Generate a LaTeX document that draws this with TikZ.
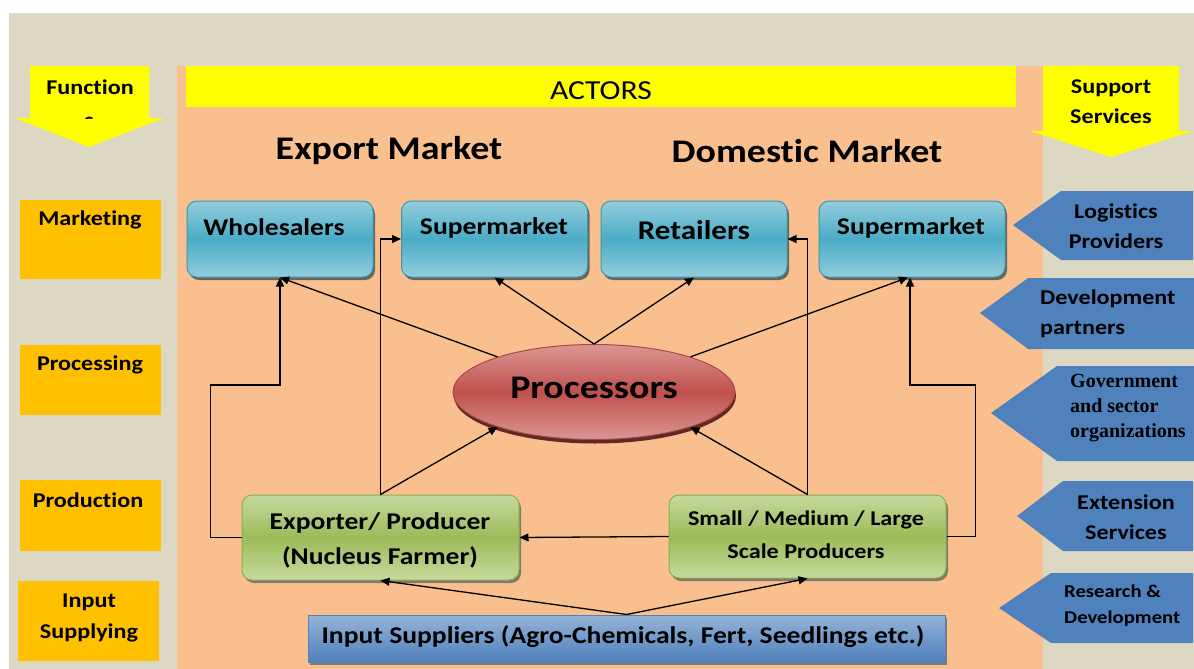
\documentclass[tikz,border=0pt]{standalone}
\usepackage{fontspec}
\setmainfont{Carlito}[FakeStretch=1.15,Ligatures=NoCommon]
\newfontfamily\timesfont{Liberation Serif}
\usetikzlibrary{shapes.geometric,shadows,arrows.meta,calc}
\definecolor{tanbg}{HTML}{DDD8C4}
\definecolor{peach}{HTML}{F9BF8F}
\definecolor{yel}{HTML}{FFFF00}
\definecolor{orng}{HTML}{FFC000}
\definecolor{sblue}{HTML}{4F81BD}
\definecolor{bluelt}{HTML}{93CDDD}
\definecolor{bluedk}{HTML}{4BACC6}
\definecolor{bluebd}{HTML}{3C97AE}
\definecolor{grnlt}{HTML}{C6DA9E}
\definecolor{grndk}{HTML}{9BBB59}
\definecolor{grnbd}{HTML}{8AAE4A}
\definecolor{redlt}{HTML}{DA9694}
\definecolor{reddk}{HTML}{C0504D}
\definecolor{inplt}{HTML}{95B3D7}
\tikzset{
  x=1pt,y=-1pt,
  bluebox/.style={draw=bluebd,line width=1pt,rounded corners=10pt,top color=bluelt,bottom color=bluelt,middle color=bluedk,
    minimum width=186pt,minimum height=76pt,drop shadow={shadow xshift=2pt,shadow yshift=-3pt,fill=black!70,opacity=0.8}},
  grnbox/.style={draw=grnbd,line width=1pt,rounded corners=10pt,top color=grnlt,bottom color=grnlt,middle color=grndk,
    minimum width=277pt,minimum height=85pt,drop shadow={shadow xshift=2pt,shadow yshift=-3pt,fill=black!60,opacity=0.8}},
  fnbox/.style={fill=orng,minimum width=141pt,anchor=north west,inner sep=0pt},
  lbl/.style={font=\bfseries,inner sep=0pt,align=center},
  conn/.style={draw=black,line width=1.3pt,-{Triangle[length=9pt,width=8pt]}},
}
\begin{document}
\begin{tikzpicture}
\useasboundingbox (0,0) rectangle (1194,669);
\fill[white] (0,0) rectangle (1194,669);
\fill[tanbg] (9,13) rectangle (1194,669);
\fill[peach] (177,66) rectangle (1043,669);
% actors bar
\node[fill=yel,minimum width=830pt,minimum height=41pt,anchor=north west,inner sep=0pt] (actors) at (186,66) {};
\node[font=\fontsize{27.5}{27.5}\selectfont,inner sep=0pt] (actorst) at (601,91) {ACTORS};
% functions arrow
\fill[yel] (30,66) -- (149,66) -- (149,118) -- (164,118) -- (89,147) -- (15,118) -- (30,118) -- cycle;
\node[lbl,font=\bfseries\fontsize{21}{21}\selectfont] (funct) at (90,87) {Function};
\begin{scope}
\clip (20,100) rectangle (160,118.5);
\node[lbl,font=\bfseries\fontsize{21}{21}\selectfont] (functs) at (89,122) {s};
\end{scope}
% support services arrow
\fill[yel] (1043,66) -- (1179,66) -- (1179,131) -- (1193,131) -- (1111,157) -- (1030,131) -- (1043,131) -- cycle;
\node[lbl,font=\bfseries\fontsize{21}{24}\selectfont] (supp) at (1111,102) {Support\\[6pt]Services};
% function boxes
\node[fnbox,minimum height=79pt] (fmark) at (20,200) {};
\node[lbl,font=\bfseries\fontsize{21}{21}\selectfont] (fmarkt) at (90,220) {Marketing};
\node[fnbox,minimum height=70pt] (fproc) at (20,345) {};
\node[lbl,font=\bfseries\fontsize{21}{21}\selectfont] (fproct) at (90,365) {Processing};
\node[fnbox,minimum height=71pt] (fprod) at (20,480) {};
\node[lbl,font=\bfseries\fontsize{21}{21}\selectfont] (fprodt) at (88,500) {Production};
\node[fnbox,minimum height=80pt] (finp) at (18,581) {};
\node[lbl,font=\bfseries\fontsize{21}{21}\selectfont] (finpt1) at (89,602) {Input};
\node[lbl,font=\bfseries\fontsize{21}{21}\selectfont] (finpt2) at (89,633) {Supplying};
% support arrows
\fill[sblue] (1013,225) -- (1061,191) -- (1193,191) -- (1193,260) -- (1061,260) -- cycle;
\node[lbl,font=\bfseries\fontsize{21}{21}\selectfont] (logt) at (1116,226) {Logistics\\[9pt]Providers};
\fill[sblue] (980,313) -- (1028,278) -- (1194,278) -- (1194,349) -- (1028,349) -- cycle;
\node[lbl,font=\bfseries\fontsize{21}{21}\selectfont,align=left,anchor=west] (devt) at (1040,314) {Development\\[9pt]partners};
\fill[sblue] (991,413) -- (1057,366) -- (1194,366) -- (1194,461) -- (1057,461) -- cycle;
\node[lbl,font=\timesfont\bfseries\fontsize{20}{25}\selectfont,align=left,anchor=west] (govt) at (1070,408) {Government\\and sector\\organizations};
\fill[sblue] (1017,516) -- (1063,481) -- (1193,481) -- (1193,551) -- (1063,551) -- cycle;
\node[lbl,font=\bfseries\fontsize{21}{21}\selectfont] (extt) at (1126,517) {Extension\\[9pt]Services};
\fill[sblue] (999,608) -- (1051,573) -- (1193,573) -- (1193,643) -- (1051,643) -- cycle;
\node[lbl,font=\bfseries\fontsize{18}{18}\selectfont,align=left,anchor=west] (rdt) at (1064,606) {Research \&\\[8pt]Development};
% headers
\node[lbl,font=\bfseries\fontsize{33}{33}\selectfont] (expm) at (389,151) {Export Market};
\node[lbl,font=\bfseries\fontsize{33}{33}\selectfont] (domm) at (807,151) {Domestic Market};
% blue boxes
\node[bluebox] (wh) at (280,239) {};
\node[lbl,font=\bfseries\fontsize{24}{24}\selectfont] (wht) at (274,227) {Wholesalers};
\node[bluebox] (sm1) at (494.5,239) {};
\node[lbl,font=\bfseries\fontsize{24}{24}\selectfont] (sm1t) at (494,228) {Supermarket};
\node[bluebox] (ret) at (694,239) {};
\node[lbl,font=\bfseries\fontsize{27}{27}\selectfont] (rett) at (694,230) {Retailers};
\node[bluebox] (sm2) at (912,239) {};
\node[lbl,font=\bfseries\fontsize{24}{24}\selectfont] (sm2t) at (911,228) {Supermarket};
% processors
\node[ellipse,draw=reddk!90!black,line width=1pt,top color=redlt,bottom color=redlt,middle color=reddk,
  minimum width=282pt,minimum height=95pt,inner sep=0pt,
  drop shadow={shadow xshift=1pt,shadow yshift=-4pt,fill=reddk!50!black,opacity=1}] (proc) at (594,392) {};
\node[lbl,font=\bfseries\fontsize{33}{33}\selectfont] (proct) at (594,388) {Processors};
% green boxes
\node[grnbox] (exp) at (380.5,537.5) {};
\node[lbl,font=\bfseries\fontsize{24}{24}\selectfont] (expt1) at (380,523) {Exporter/ Producer};
\node[lbl,font=\bfseries\fontsize{24}{24}\selectfont] (expt2) at (380,557) {(Nucleus Farmer)};
\node[grnbox,minimum height=83pt] (smp) at (807.5,536.5) {};
\node[lbl,font=\bfseries\fontsize{21}{21}\selectfont] (smpt1) at (806,520) {Small / Medium / Large};
\node[lbl,font=\bfseries\fontsize{21}{21}\selectfont] (smpt2) at (806,551) {Scale Producers};
% input suppliers
\node[draw=sblue,line width=1pt,top color=inplt,bottom color=sblue,minimum width=637pt,minimum height=47pt,inner sep=0pt,
  drop shadow={shadow xshift=2pt,shadow yshift=-3pt,fill=black!60,opacity=0.8}] (inp) at (626.5,638.5) {};
\node[lbl,font=\bfseries\fontsize{24}{24}\selectfont] (inpt) at (623,637) {Input Suppliers (Agro-Chemicals, Fert, Seedlings etc.)};
% connectors
\coordinate (ptop) at (proc.north);
\draw[conn] (proc.160) -- (wh.south);
\draw[conn] (ptop) -- (sm1.south);
\draw[conn] (ptop) -- (ret.south);
\draw[conn] (proc.20) -- ($(sm2.south)+(-4,0)$);
\draw[conn] (exp.north) -- (proc.200);
\draw[conn] (smp.north) -- (proc.340);
\draw[conn] (exp.west) -- ++(-31,0) |- (280,385) -- (wh.south);
\draw[conn] (exp.north) |- (sm1.west);
\draw[conn] (smp.north) |- (ret.east);
\draw[conn] (smp.east) -- ++(29,0) |- (910,385) -- ($(sm2.south)+(-2,0)$);
\draw[conn] (smp.west) -- (exp.east);
\draw[conn] (inp.north) -- (exp.south);
\draw[conn] (inp.north) -- (smp.south);
\end{tikzpicture}
\end{document}
